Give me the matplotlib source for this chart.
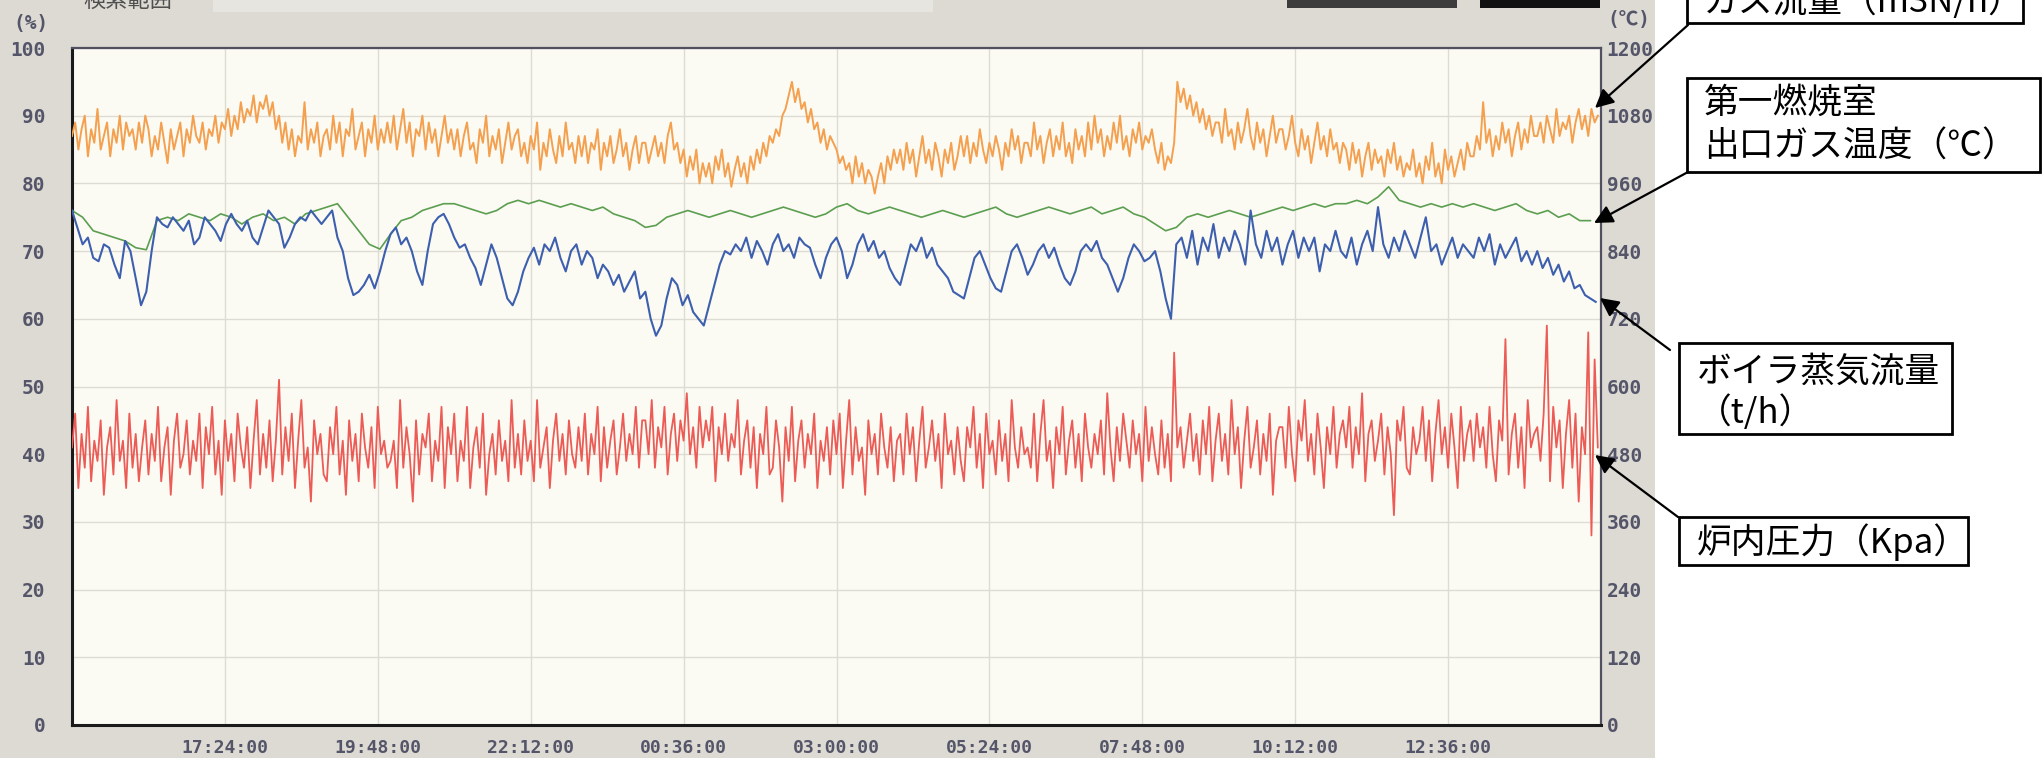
import numpy as np
import matplotlib
matplotlib.use("Agg")
import matplotlib.pyplot as plt
from matplotlib.patches import Rectangle, FancyArrowPatch

# ---------------- data (values in % of chart scale) ----------------
fine_sample_min = 3     # gas flow & furnace pressure: every 3 minutes from 15:00
blue_sample_min = 5     # steam flow: every 5 minutes
green_sample_min = 10   # gas temperature: every 10 minutes

gas_flow_orange = [
    87, 89, 85, 88, 90, 84, 88, 86, 91, 85, 87, 89, 84, 88, 86, 90, 85, 89, 87, 88,
    85, 89, 86, 90, 88, 84, 87, 85, 89, 86, 83, 88, 85, 87, 89, 84, 88, 86, 90, 87,
    86, 89, 85, 88, 87, 90, 86, 89, 88, 91, 87, 90, 88, 92, 89, 91, 90, 93, 89, 92,
    91, 93, 90, 92, 88, 90, 86, 89, 85, 88, 84, 87, 86, 92, 85, 88, 86, 89, 84, 87,
    88, 85, 90, 86, 89, 84, 88, 87, 91, 85, 87, 89, 84, 88, 86, 90, 85, 88, 86, 89,
    86, 90, 85, 88, 91, 86, 89, 84, 88, 87, 90, 85, 89, 86, 88, 84, 87, 90, 86, 88,
    85, 88, 84, 87, 89, 85, 86, 83, 88, 86, 90, 84, 87, 85, 88, 83, 86, 89, 85, 87,
    88, 84, 86, 83, 87, 85, 89, 82, 86, 84, 88, 85, 83, 87, 84, 89, 85, 86, 83, 87,
    84, 87, 83, 86, 85, 88, 82, 86, 84, 87, 83, 85, 88, 84, 86, 82, 85, 87, 83, 86,
    86, 83, 85, 87, 84, 86, 83, 87, 89, 85, 86, 83, 85, 81, 84, 82, 85, 80, 83, 81,
    83, 80, 84, 82, 85, 81, 83, 79.5, 82, 84, 81, 83, 80, 84, 82, 85, 83, 86, 84, 87,
    86, 88, 87, 90, 91, 93, 95, 92, 94, 91, 92, 89, 91, 88, 89, 86, 88, 85, 87, 86,
    85, 83, 84, 82, 83, 80, 84, 81, 83, 80, 82, 81, 78.5, 81, 83, 80, 84, 82, 85, 83,
    85, 82, 86, 83, 85, 81, 84, 87, 83, 85, 82, 86, 84, 81, 85, 83, 86, 82, 84, 87,
    84, 87, 83, 86, 84, 88, 85, 83, 86, 84, 87, 85, 82, 86, 84, 88, 85, 87, 83, 86,
    86, 84, 89, 85, 87, 83, 86, 88, 84, 87, 85, 89, 84, 86, 83, 88, 85, 87, 84, 89,
    85, 90, 86, 88, 84, 87, 85, 89, 86, 90, 85, 87, 84, 88, 86, 89, 85, 87, 86, 88,
    85, 83, 86, 82, 84, 83, 86, 95, 92, 94, 91, 93, 90, 92, 89, 91, 88, 90, 87, 89,
    89, 86, 91, 87, 88, 85, 89, 86, 88, 91, 87, 85, 89, 86, 88, 84, 87, 90, 86, 88,
    88, 85, 87, 90, 86, 84, 88, 85, 87, 83, 86, 89, 85, 87, 84, 88, 85, 86, 83, 86,
    85, 82, 86, 83, 85, 81, 84, 86, 82, 85, 83, 84, 81, 85, 83, 86, 82, 84, 81, 83,
    82, 85, 81, 83, 80, 84, 82, 86, 81, 83, 80, 85, 82, 84, 81, 83, 85, 82, 86, 84,
    84, 87, 85, 92, 86, 88, 84, 87, 85, 89, 86, 88, 84, 87, 89, 85, 88, 86, 90, 87,
    87, 89, 86, 90, 88, 86, 91, 87, 89, 88, 90, 86, 89, 91, 88, 90, 87, 91, 89, 90,
]

furnace_pressure_red = [
    41, 46, 35, 43, 38, 47, 36, 42, 39, 45, 34, 41, 44, 37, 48, 39, 42, 35, 46, 38,
    43, 36, 41, 45, 37, 43, 39, 47, 36, 41, 44, 34, 42, 46, 38, 40, 45, 37, 42, 39,
    46, 35, 44, 40, 47, 37, 42, 34, 45, 39, 43, 36, 46, 41, 38, 44, 35, 42, 48, 37,
    43, 38, 45, 36, 42, 51, 37, 44, 39, 46, 35, 42, 48, 38, 41, 33, 45, 40, 43, 37,
    36, 44, 40, 47, 37, 42, 34, 45, 39, 43, 36, 46, 41, 38, 44, 35, 47, 40, 42, 38,
    39, 42, 35, 48, 38, 44, 40, 33, 45, 37, 43, 41, 46, 36, 42, 39, 47, 35, 44, 40,
    46, 36, 42, 39, 47, 35, 41, 44, 38, 46, 34, 40, 43, 37, 45, 39, 42, 36, 48, 38,
    43, 37, 45, 39, 42, 36, 48, 38, 41, 44, 35, 42, 46, 39, 43, 37, 45, 40, 38, 44,
    39, 46, 37, 43, 40, 47, 36, 44, 38, 42, 45, 37, 41, 46, 39, 43, 40, 47, 38, 45,
    45, 40, 48, 38, 44, 41, 47, 37, 43, 46, 39, 45, 42, 49, 40, 44, 38, 47, 41, 45,
    42, 47, 36, 44, 40, 46, 39, 43, 41, 48, 37, 42, 45, 38, 44, 35, 43, 40, 47, 37,
    38, 45, 41, 33, 44, 39, 47, 36, 42, 45, 38, 43, 40, 46, 35, 42, 39, 44, 37, 45,
    40, 46, 35, 42, 48, 37, 44, 39, 41, 34, 45, 40, 43, 37, 46, 41, 38, 44, 36, 42,
    43, 37, 46, 40, 44, 36, 42, 47, 38, 41, 45, 39, 43, 35, 46, 40, 42, 37, 44, 39,
    36, 44, 41, 47, 38, 43, 35, 46, 40, 42, 37, 45, 39, 43, 36, 48, 41, 38, 44, 40,
    41, 38, 46, 36, 43, 48, 39, 42, 35, 44, 40, 47, 37, 42, 45, 38, 43, 36, 46, 41,
    38, 43, 40, 45, 37, 49, 41, 36, 44, 39, 46, 42, 38, 45, 40, 43, 36, 47, 39, 44,
    40, 37, 45, 38, 43, 36, 55, 41, 44, 38, 42, 46, 39, 43, 37, 45, 40, 47, 36, 42,
    46, 39, 43, 37, 48, 40, 44, 35, 42, 47, 38, 41, 45, 37, 43, 39, 46, 34, 42, 44,
    44, 38, 47, 40, 36, 45, 42, 48, 39, 43, 37, 46, 41, 35, 44, 40, 47, 38, 43, 45,
    41, 47, 38, 44, 40, 49, 36, 43, 45, 39, 42, 46, 37, 44, 40, 31, 45, 42, 47, 38,
    37, 44, 40, 42, 47, 39, 45, 36, 43, 48, 40, 44, 38, 46, 41, 35, 47, 39, 43, 45,
    39, 46, 41, 44, 38, 47, 40, 36, 45, 42, 57, 37, 43, 46, 38, 44, 35, 48, 41, 43,
    44, 39, 46, 59, 36, 47, 41, 45, 35, 43, 48, 38, 46, 33, 44, 40, 58, 28, 54, 41,
]

steam_flow_blue = [
    76, 73.5, 71, 72, 69, 68.5, 71, 70.5, 68, 66, 71.5, 70,
    66, 62, 64, 70, 75, 74, 73.5, 75, 74, 73, 74.5, 71,
    72, 75, 74, 73, 71.5, 74, 75.5, 74, 73, 74.5, 72, 71,
    73.5, 76, 75, 74, 70.5, 72, 74, 75, 74.5, 76, 75, 74,
    75, 76, 72, 70, 66, 63.5, 64, 65, 66.5, 64.5, 67, 70,
    72.5, 73.5, 71, 72, 70, 67, 65, 70, 74, 75, 75.5, 74,
    72, 70.5, 71, 69, 67.5, 65, 68, 71, 69, 66, 63, 62,
    64, 67, 69, 70.5, 68, 71, 70, 72, 69, 67, 70, 71,
    68, 70, 69, 66, 68, 67, 65, 66.5, 64, 65.5, 67, 63,
    64, 60, 57.5, 59, 63, 66, 65, 62, 63.5, 61, 60, 59,
    62, 65, 68, 70, 69.5, 71, 70, 72, 69, 71.5, 70, 68,
    71, 72.5, 70, 71, 69, 72, 71, 70.5, 68, 66, 69, 71,
    72, 70, 66, 68, 71, 72.5, 70, 71.5, 69, 70, 67.5, 66,
    65, 68, 71, 70, 72, 69, 70.5, 68, 67, 66, 64, 63.5,
    63, 66, 69, 70, 68, 66, 64.5, 64, 67, 70, 71, 69,
    66.5, 68, 70, 71, 69, 70.5, 68, 66, 65, 67, 70, 71,
    70, 71.5, 69, 68, 66, 64, 66, 69, 71, 70, 68.5, 69,
    70, 67, 63, 60, 71, 72, 69, 73, 68, 72, 70, 74,
    69, 72, 70, 73, 71, 68, 76, 71, 69, 73, 70, 72,
    68, 71, 73, 69, 72, 70, 72, 67, 71, 70, 73, 70,
    69, 72, 68, 71, 73, 70, 76.5, 71, 69, 72, 70, 73,
    71, 69, 72, 75, 70, 71, 68, 70, 72, 69, 71, 70,
    69, 72, 70, 72.5, 68, 71, 69, 70.5, 72, 68.5, 70, 68,
    70, 67.5, 69, 66.5, 68, 65.5, 67, 64.5, 65, 63.5, 63, 62.5,
]

gas_temp_green = [
    76, 75, 73, 72.5, 72, 71.5,
    70.5, 70.2, 74.5, 75, 74.5, 75.5,
    75, 74.5, 75.5, 75, 74, 75,
    75.5, 74.5, 75, 74, 75.5, 76,
    76.5, 77, 75, 73, 71, 70.3,
    72.5, 74.5, 75, 76, 76.5, 77,
    77, 76.5, 76, 75.5, 76, 77,
    77.5, 77, 77.5, 77, 76.5, 77,
    76.5, 76, 76.5, 75.5, 75, 74.5,
    73.5, 73.8, 75, 75.5, 76, 75.5,
    75, 75.5, 76, 75.5, 75, 75.5,
    76, 76.5, 76, 75.5, 75, 75.5,
    76.5, 77, 76, 75.5, 76, 76.5,
    76, 75.5, 75, 75.5, 76, 75.5,
    75, 75.5, 76, 76.5, 75.5, 75,
    75.5, 76, 76.5, 76, 75.5, 76,
    76.5, 75.5, 76, 76.5, 75.5, 75,
    74, 73, 73.5, 75, 75.5, 75,
    75.5, 76, 75.5, 75, 75.5, 76,
    76.5, 76, 76.5, 77, 76.5, 77,
    77, 77.5, 77, 78, 79.5, 77.5,
    77, 76.5, 77, 76.5, 77, 76.5,
    77, 76.5, 76, 76.5, 77, 76,
    75.5, 76, 75, 75.5, 74.5, 74.5,
]

time_tick_labels = ["17:24:00", "19:48:00", "22:12:00", "00:36:00", "03:00:00",
                    "05:24:00", "07:48:00", "10:12:00", "12:36:00"]
left_ticks = list(range(0, 101, 10))
right_tick_labels = [str(v) for v in range(0, 1201, 120)]
start_hour = 15
span_minutes = 1440

label_gas = "ガス流量（m3N/h）"
label_temp = ["第一燃焼室", "出口ガス温度（℃）"]
label_steam = ["ボイラ蒸気流量", "（t/h）"]
label_press = "炉内圧力（Kpa）"
header_text = "検索範囲"

# ---------------- figure ----------------
W, H = 2044, 758
fig = plt.figure(figsize=(W / 100, H / 100), dpi=100)
fig.patch.set_facecolor("white")

def fx(x):
    return x / W

def fy(y):
    return 1 - y / H

# grey panel of the screen
fig.add_artist(Rectangle((0, 0), fx(1655), 1, transform=fig.transFigure,
                         facecolor="#dcdad2", edgecolor="none", zorder=0))
# header remnants (cut off at top)
fig.add_artist(Rectangle((fx(213), fy(12)), fx(720), 12 / H, transform=fig.transFigure,
                         facecolor="#e6e5df", edgecolor="none", zorder=1))
fig.add_artist(Rectangle((fx(1287), fy(8)), fx(170), 8 / H, transform=fig.transFigure,
                         facecolor="#3c3c3c", edgecolor="none", zorder=1))
fig.add_artist(Rectangle((fx(1480), fy(8)), fx(120), 8 / H, transform=fig.transFigure,
                         facecolor="#111111", edgecolor="none", zorder=1))
fig.text(fx(83), fy(0), header_text, fontfamily=["Noto Sans CJK JP"], fontsize=16,
         color="#505050", ha="left", va="center", zorder=2)

ax = fig.add_axes([fx(72), fy(725), fx(1601 - 72), (725 - 48) / H])
ax.set_facecolor("#fbfbf4")

mono = ["DejaVu Sans Mono", "Noto Sans CJK JP"]
tick_color = "#55556a"
tick_fs = 14

t_fine = np.arange(len(furnace_pressure_red)) * fine_sample_min
t_orange = np.arange(len(gas_flow_orange)) * fine_sample_min
t_blue = np.arange(len(steam_flow_blue)) * blue_sample_min
t_green = np.arange(len(gas_temp_green)) * green_sample_min

ax.plot(t_orange, gas_flow_orange, color="#f4a04f", lw=1.4, zorder=3)
ax.plot(t_green, gas_temp_green, color="#5c9e50", lw=1.2, zorder=3)
ax.plot(t_blue, steam_flow_blue, color="#3d5fae", lw=1.5, zorder=3)
ax.plot(t_fine, furnace_pressure_red, color="#ec5b55", lw=1.3, zorder=3)

def to_minutes(lbl):
    hh, mm, _ = (int(p) for p in lbl.split(":"))
    return ((hh - start_hour) * 60 + mm) % span_minutes

xt = [to_minutes(l) for l in time_tick_labels]
ax.set_xlim(0, span_minutes)
ax.set_ylim(0, 100)
ax.set_xticks(xt)
ax.set_xticklabels(time_tick_labels, fontfamily=mono, fontsize=13,
                   fontweight="bold", color=tick_color)
ax.set_yticks(left_ticks)
ax.set_yticklabels([str(v) for v in left_ticks], fontfamily=mono, fontsize=tick_fs,
                   fontweight="bold", color=tick_color)
ax.tick_params(axis="x", length=0, pad=10)
ax.tick_params(axis="y", length=0, pad=19)
ax.grid(True, color="#dedcd2", lw=1.0, zorder=1)
ax.set_axisbelow(True)

for side in ("left", "bottom"):
    ax.spines[side].set_color("#1a1a1a")
    ax.spines[side].set_linewidth(2.2)
for side in ("top", "right"):
    ax.spines[side].set_color("#505060")
    ax.spines[side].set_linewidth(1.6)

ax2 = ax.twinx()
ax2.set_ylim(0, 100)
ax2.set_yticks(left_ticks)
ax2.set_yticklabels(right_tick_labels, fontfamily=mono, fontsize=tick_fs,
                    fontweight="bold", color=tick_color)
ax2.tick_params(axis="y", length=0, pad=4)
for s in ax2.spines.values():
    s.set_visible(False)

fig.text(fx(31), fy(23), "(%)", fontfamily=mono, fontsize=tick_fs, fontweight="bold",
         color=tick_color, ha="center", va="center")
fig.text(fx(1629), fy(20), "(℃)", fontfamily=mono, fontsize=tick_fs, fontweight="bold",
         color=tick_color, ha="center", va="center")

# ---------------- annotation boxes ----------------
jp = ["Noto Sans CJK JP", "DejaVu Sans"]
def box(x0, y0, x1, y1):
    fig.add_artist(Rectangle((fx(x0), fy(y1)), fx(x1 - x0), (y1 - y0) / H,
                             transform=fig.transFigure, facecolor="white",
                             edgecolor="black", lw=2, zorder=5))

def arrow(x0, y0, x1, y1):
    fig.add_artist(FancyArrowPatch((fx(x0), fy(y0)), (fx(x1), fy(y1)),
                                   transform=fig.transFigure, arrowstyle="-|>",
                                   mutation_scale=28, lw=1.6, color="black",
                                   shrinkA=0, shrinkB=0, zorder=6))

fs = 25
box(1687, -40, 2023, 23)
fig.text(fx(1704), fy(2), label_gas, fontfamily=jp, fontsize=fs, ha="left", va="center", zorder=7)
box(1687, 78, 2040, 172)
fig.text(fx(1704), fy(103), label_temp[0], fontfamily=jp, fontsize=fs, ha="left", va="center", zorder=7)
fig.text(fx(1704), fy(147), label_temp[1], fontfamily=jp, fontsize=fs, ha="left", va="center", zorder=7)
box(1679, 343, 1952, 434)
fig.text(fx(1697), fy(372), label_steam[0], fontfamily=jp, fontsize=fs, ha="left", va="center", zorder=7)
fig.text(fx(1697), fy(413), label_steam[1], fontfamily=jp, fontsize=fs, ha="left", va="center", zorder=7)
box(1679, 517, 1968, 565)
fig.text(fx(1697), fy(542), label_press, fontfamily=jp, fontsize=fs, ha="left", va="center", zorder=7)

arrow(1688, 25, 1595, 108)
arrow(1688, 172, 1594, 223)
arrow(1670, 350, 1600, 298)
arrow(1678, 517, 1595, 455)

fig.savefig("out.png", dpi=100)
